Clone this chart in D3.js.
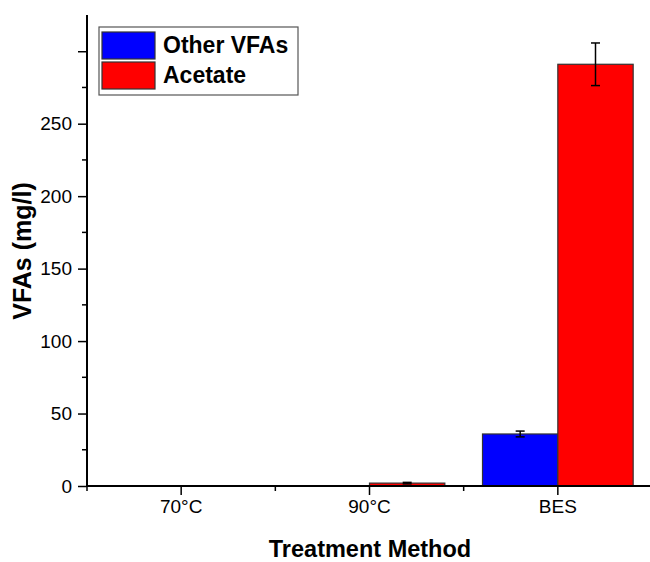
<!DOCTYPE html>
<meta charset="utf-8">
<style>
body { margin: 0; background: #fff; }
svg { font-family: "Liberation Sans", Arial, sans-serif; }
.tick text { font-size: 19px; fill: #000; }
</style>
<svg width="650" height="562"></svg>
<script src="https://cdn.jsdelivr.net/npm/d3@7/dist/d3.min.js"></script>
<script>

var categories = ["70°C", "90°C", "BES"];
var seriesNames = ["Other VFAs", "Acetate"];
var otherVFAs = [0, 0, 35.9];
var otherErr = [0, 0, 2];
var acetate = [0, 2, 291];
var acetateErr = [0, 0.5, 14.7];
var yTicks = [0, 50, 100, 150, 200, 250, 300];
var colors = ["#0000ff", "#ff0000"];

var svg = d3.select("svg");
var mLeft = 87, mRight = 652, mTop = 15, mBottom = 486;

var x = d3.scaleBand()
    .domain(categories)
    .range([mLeft, mRight]);

var inner = d3.scaleBand()
    .domain(seriesNames)
    .range([0, x.bandwidth() * 0.8]);

var y = d3.scaleLinear()
    .domain([0, 325])
    .range([mBottom, mTop]);

var data = categories.map(function(c, i) {
  return { cat: c, vals: [
    { name: seriesNames[0], v: otherVFAs[i], e: otherErr[i] },
    { name: seriesNames[1], v: acetate[i], e: acetateErr[i] }
  ]};
});

var groups = svg.append("g").selectAll("g")
  .data(data)
  .enter().append("g")
    .attr("transform", function(d) { return "translate(" + (x(d.cat) + x.bandwidth() * 0.1) + ",0)"; });

groups.selectAll("rect")
  .data(function(d) { return d.vals.filter(function(v) { return v.v > 0; }); })
  .enter().append("rect")
    .attr("x", function(d) { return inner(d.name); })
    .attr("width", inner.bandwidth())
    .attr("y", function(d) { return y(d.v); })
    .attr("height", function(d) { return mBottom - y(d.v); })
    .attr("fill", function(d) { return colors[seriesNames.indexOf(d.name)]; })
    .attr("stroke", "#333")
    .attr("stroke-width", 1.2);

// error bars
var eb = groups.selectAll(".err")
  .data(function(d) { return d.vals.filter(function(v) { return v.v > 0; }); })
  .enter().append("g")
    .attr("class", "err")
    .attr("stroke", "#000")
    .attr("stroke-width", 1.5);

eb.append("line")
    .attr("x1", function(d) { return inner(d.name) + inner.bandwidth() / 2; })
    .attr("x2", function(d) { return inner(d.name) + inner.bandwidth() / 2; })
    .attr("y1", function(d) { return y(d.v + d.e); })
    .attr("y2", function(d) { return y(d.v - d.e); });

[1, -1].forEach(function(s) {
  eb.append("line")
      .attr("x1", function(d) { return inner(d.name) + inner.bandwidth() / 2 - 4.5; })
      .attr("x2", function(d) { return inner(d.name) + inner.bandwidth() / 2 + 4.5; })
      .attr("y1", function(d) { return y(d.v + s * d.e); })
      .attr("y2", function(d) { return y(d.v + s * d.e); });
});

// y axis
var yAxis = svg.append("g")
    .attr("transform", "translate(" + mLeft + ",0)")
    .call(d3.axisLeft(y).tickValues(yTicks).tickSize(9).tickPadding(6).tickSizeOuter(0));
yAxis.select(".domain").attr("stroke-width", 2).attr("d", "M0," + mBottom + "V" + mTop);
yAxis.selectAll(".tick line").attr("stroke-width", 1.5);
yAxis.selectAll(".tick text").text(function(d) { return d === 300 ? "" : d; });

var yMinor = d3.range(25, 325, 50);
svg.append("g").selectAll("line")
  .data(yMinor)
  .enter().append("line")
    .attr("x1", mLeft - 5).attr("x2", mLeft)
    .attr("y1", function(d) { return y(d); })
    .attr("y2", function(d) { return y(d); })
    .attr("stroke", "#000").attr("stroke-width", 1.5);

// x axis
var xAxis = svg.append("g")
    .attr("transform", "translate(0," + mBottom + ")")
    .call(d3.axisBottom(x).tickSize(9).tickPadding(5).tickSizeOuter(0));
xAxis.select(".domain").attr("stroke-width", 2).attr("d", "M" + (mLeft - 1) + ",0H" + mRight);
xAxis.selectAll(".tick line").attr("stroke-width", 1.5);

var xMinor = [mLeft].concat(categories.slice(1).map(function(c) { return x(c); }));
svg.append("g").selectAll("line")
  .data(xMinor)
  .enter().append("line")
    .attr("x1", function(d) { return d; })
    .attr("x2", function(d) { return d; })
    .attr("y1", mBottom).attr("y2", mBottom + 5)
    .attr("stroke", "#000").attr("stroke-width", 1.5);

// axis titles
svg.append("text")
    .attr("x", 370)
    .attr("y", 557)
    .attr("text-anchor", "middle")
    .attr("font-weight", "bold")
    .attr("font-size", 23.5)
    .text("Treatment Method");

svg.append("text")
    .attr("transform", "translate(31,251) rotate(-90)")
    .attr("text-anchor", "middle")
    .attr("font-weight", "bold")
    .attr("font-size", 25)
    .text("VFAs (mg/l)");

// legend
var legend = svg.append("g").attr("transform", "translate(99,27)");
legend.append("rect")
    .attr("width", 199).attr("height", 68)
    .attr("fill", "#fff").attr("stroke", "#555").attr("stroke-width", 1.2);

var li = legend.selectAll(".li")
  .data(seriesNames)
  .enter().append("g")
    .attr("transform", function(d, i) { return "translate(3," + (5 + i * 30) + ")"; });
li.append("rect")
    .attr("width", 53).attr("height", 27)
    .attr("fill", function(d, i) { return colors[i]; })
    .attr("stroke", "#333").attr("stroke-width", 1.2);
li.append("text")
    .attr("x", 61).attr("y", 21)
    .attr("font-weight", "bold")
    .attr("font-size", 23)
    .text(function(d) { return d; });

</script>
